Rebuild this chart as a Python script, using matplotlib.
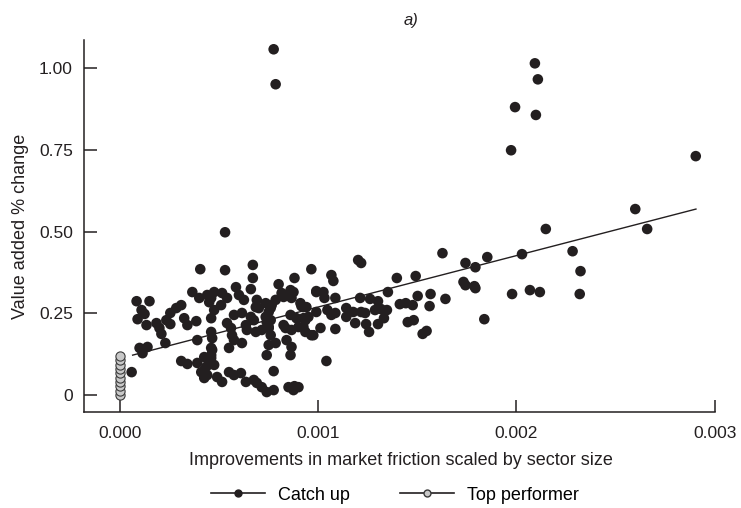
import matplotlib
matplotlib.use("Agg")
import matplotlib.pyplot as plt
from matplotlib.lines import Line2D

plt.rcParams['font.family'] = ['Liberation Sans Narrow', 'Liberation Sans', 'DejaVu Sans']

# catch up sectors: (x in market-friction units, y = value added % change)
catch_up_x = [
    0.060e-3, 0.085e-3, 0.150e-3, 0.110e-3, 0.125e-3, 0.090e-3, 0.135e-3, 0.185e-3, 0.200e-3, 0.210e-3,
    0.235e-3, 0.255e-3, 0.255e-3, 0.285e-3, 0.310e-3, 0.325e-3, 0.341e-3, 0.386e-3, 0.366e-3, 0.401e-3,
    0.441e-3, 0.451e-3, 0.230e-3, 0.100e-3, 0.140e-3, 0.115e-3, 0.391e-3, 0.466e-3, 0.310e-3, 0.341e-3,
    0.391e-3, 0.411e-3, 0.436e-3, 0.426e-3, 0.461e-3, 0.466e-3, 0.441e-3, 0.426e-3, 0.406e-3,
    0.531e-3, 0.531e-3, 0.671e-3, 0.966e-3, 0.671e-3, 0.881e-3, 0.801e-3, 0.586e-3, 0.661e-3, 0.861e-3,
    0.991e-3, 0.461e-3, 0.516e-3, 0.541e-3, 0.476e-3, 0.601e-3, 0.626e-3, 0.691e-3, 0.786e-3, 0.826e-3,
    0.866e-3, 0.911e-3, 0.926e-3, 0.686e-3, 0.701e-3, 0.761e-3, 0.766e-3, 0.511e-3, 0.476e-3, 0.461e-3,
    0.576e-3, 0.616e-3, 0.661e-3, 0.676e-3, 0.736e-3, 0.741e-3, 0.861e-3, 0.891e-3, 0.926e-3, 0.951e-3,
    0.541e-3, 0.561e-3, 0.636e-3, 0.641e-3, 0.686e-3, 0.716e-3, 0.751e-3, 0.761e-3, 0.826e-3, 0.866e-3,
    0.926e-3, 0.976e-3, 0.461e-3, 0.566e-3, 0.576e-3, 0.616e-3, 0.751e-3, 0.786e-3, 0.841e-3, 0.866e-3,
    0.861e-3, 0.741e-3, 0.551e-3, 0.461e-3, 0.461e-3, 0.451e-3, 0.476e-3, 0.776e-3, 0.491e-3, 0.516e-3,
    0.551e-3, 0.576e-3, 0.611e-3, 0.636e-3, 0.676e-3, 0.691e-3, 0.716e-3, 0.741e-3, 0.776e-3, 0.851e-3,
    0.876e-3, 0.881e-3, 0.901e-3, 0.736e-3, 0.816e-3, 0.876e-3, 0.751e-3, 0.761e-3, 0.751e-3, 0.836e-3,
    0.901e-3, 0.936e-3,
    1.202e-3, 1.217e-3, 1.067e-3, 1.077e-3, 1.397e-3, 1.492e-3, 1.352e-3, 0.991e-3, 1.027e-3, 1.032e-3,
    1.087e-3, 1.212e-3, 1.262e-3, 1.302e-3, 1.502e-3, 1.567e-3, 1.642e-3, 1.412e-3, 1.442e-3, 1.477e-3,
    1.562e-3, 0.916e-3, 0.941e-3, 0.991e-3, 1.047e-3, 1.087e-3, 1.142e-3, 1.177e-3, 1.217e-3, 1.237e-3,
    1.287e-3, 1.317e-3, 1.347e-3, 1.142e-3, 1.067e-3, 0.936e-3, 1.187e-3, 1.242e-3, 1.302e-3, 1.332e-3,
    1.452e-3, 1.482e-3, 1.087e-3, 1.012e-3, 1.257e-3, 0.966e-3, 1.527e-3, 1.547e-3, 1.042e-3, 1.627e-3,
    1.743e-3, 1.733e-3, 1.743e-3, 1.788e-3, 1.793e-3, 1.853e-3, 1.793e-3, 2.028e-3, 2.283e-3, 2.323e-3,
    2.319e-3, 1.978e-3, 2.068e-3, 2.118e-3, 1.838e-3, 2.148e-3, 2.659e-3, 2.599e-3,
    0.776e-3, 0.786e-3, 2.093e-3, 2.108e-3, 1.993e-3, 2.098e-3, 1.973e-3, 2.904e-3,
]
catch_up_y = [
    0.070, 0.287, 0.287, 0.260, 0.248, 0.232, 0.214, 0.220, 0.205, 0.187,
    0.229, 0.217, 0.251, 0.266, 0.275, 0.235, 0.214, 0.226, 0.315, 0.297,
    0.306, 0.284, 0.159, 0.144, 0.147, 0.128, 0.168, 0.174, 0.104, 0.095,
    0.098, 0.070, 0.086, 0.116, 0.113, 0.138, 0.061, 0.052, 0.385,
    0.498, 0.382, 0.398, 0.385, 0.358, 0.358, 0.339, 0.330, 0.324, 0.321,
    0.318, 0.297, 0.312, 0.297, 0.315, 0.306, 0.291, 0.291, 0.291, 0.300,
    0.297, 0.281, 0.269, 0.269, 0.266, 0.266, 0.275, 0.275, 0.260, 0.235,
    0.245, 0.251, 0.239, 0.229, 0.239, 0.223, 0.245, 0.235, 0.235, 0.239,
    0.220, 0.205, 0.214, 0.199, 0.193, 0.199, 0.208, 0.183, 0.214, 0.199,
    0.208, 0.183, 0.193, 0.183, 0.168, 0.159, 0.153, 0.159, 0.168, 0.147,
    0.122, 0.122, 0.144, 0.144, 0.122, 0.101, 0.092, 0.073, 0.055, 0.040,
    0.070, 0.061, 0.067, 0.040, 0.046, 0.037, 0.024, 0.009, 0.015, 0.024,
    0.015, 0.027, 0.024, 0.281, 0.312, 0.315, 0.254, 0.229, 0.205, 0.205,
    0.208, 0.193,
    0.413, 0.404, 0.367, 0.349, 0.358, 0.364, 0.315, 0.315, 0.315, 0.297,
    0.297, 0.297, 0.294, 0.287, 0.303, 0.309, 0.294, 0.278, 0.281, 0.275,
    0.272, 0.272, 0.269, 0.254, 0.260, 0.251, 0.266, 0.254, 0.254, 0.251,
    0.260, 0.263, 0.260, 0.239, 0.245, 0.229, 0.220, 0.217, 0.217, 0.235,
    0.223, 0.229, 0.202, 0.205, 0.193, 0.183, 0.187, 0.196, 0.104, 0.434,
    0.404, 0.346, 0.336, 0.333, 0.327, 0.422, 0.391, 0.431, 0.440, 0.379,
    0.309, 0.309, 0.321, 0.315, 0.232, 0.508, 0.508, 0.569,
    1.058, 0.951, 1.015, 0.966, 0.881, 0.857, 0.749, 0.731,
]

# top performers sit at zero improvement
top_x = [0.0, 0.0, 0.0, 0.0, 0.0, 0.0, 0.0, 0.0, 0.0, 0.0]
top_y = [0.000, 0.013, 0.027, 0.040, 0.053, 0.067, 0.080, 0.093, 0.107, 0.120]

# fitted line for catch-up sectors (end points)
fit_x = [0.065e-3, 2.905e-3]
fit_y = [0.122, 0.569]

xticks = [0.0, 0.001, 0.002, 0.003]
xtick_labels = ["0.000", "0.001", "0.002", "0.003"]
yticks = [0.0, 0.25, 0.50, 0.75, 1.00]
ytick_labels = ["0", "0.25", "0.50", "0.75", "1.00"]

fig = plt.figure(figsize=(7.41, 5.08), dpi=100)
ax = fig.add_axes([0.1134, 0.189, 0.8566, 0.732])

ax.scatter(catch_up_x, catch_up_y, s=58, color="#231f20", edgecolors="none", zorder=3)
ax.scatter(top_x, top_y, s=44, color="#c8c8c8", edgecolors="#3a3a3a", linewidths=0.8, zorder=3)
ax.plot(fit_x, fit_y, color="#231f20", lw=1.0, zorder=4)

ax.set_xlim(-0.00018, 0.00302)
ax.set_ylim(-0.052, 1.086)
ax.set_xticks(xticks)
ax.set_xticklabels(xtick_labels)
ax.set_yticks(yticks)
ax.set_yticklabels(ytick_labels)
ax.tick_params(direction="in", length=9, width=1.1, labelsize=12.5, pad=8, color="#231f20", labelcolor="#231f20")
ax.tick_params(axis="x", pad=10)
ax.spines["top"].set_visible(False)
ax.spines["right"].set_visible(False)
for s in ["left", "bottom"]:
    ax.spines[s].set_linewidth(1.1)
    ax.spines[s].set_color("#231f20")
ax.spines["bottom"].set_bounds(-0.00018, 0.003)

ax.set_xlabel("Improvements in market friction scaled by sector size", fontsize=13, color="#231f20", labelpad=8)
ax.set_ylabel("Value added % change", fontsize=13, color="#231f20", labelpad=7)
ax.set_title("a)", fontsize=12, style="italic", color="#231f20", pad=11, x=0.515)

handles = [
    Line2D([], [], color="#231f20", lw=1.2, marker="o", markersize=5, markerfacecolor="#231f20",
           markeredgecolor="#231f20"),
    Line2D([], [], color="#231f20", lw=1.2, marker="o", markersize=5, markerfacecolor="#c8c8c8",
           markeredgecolor="#3a3a3a"),
]
fig.legend(handles, ["Catch up", "Top performer"], loc="center", bbox_to_anchor=(0.533, 0.025),
           ncol=2, frameon=False, fontsize=13, handlelength=3.0, columnspacing=2.8, handletextpad=0.7)

fig.savefig("out.png", dpi=100)
